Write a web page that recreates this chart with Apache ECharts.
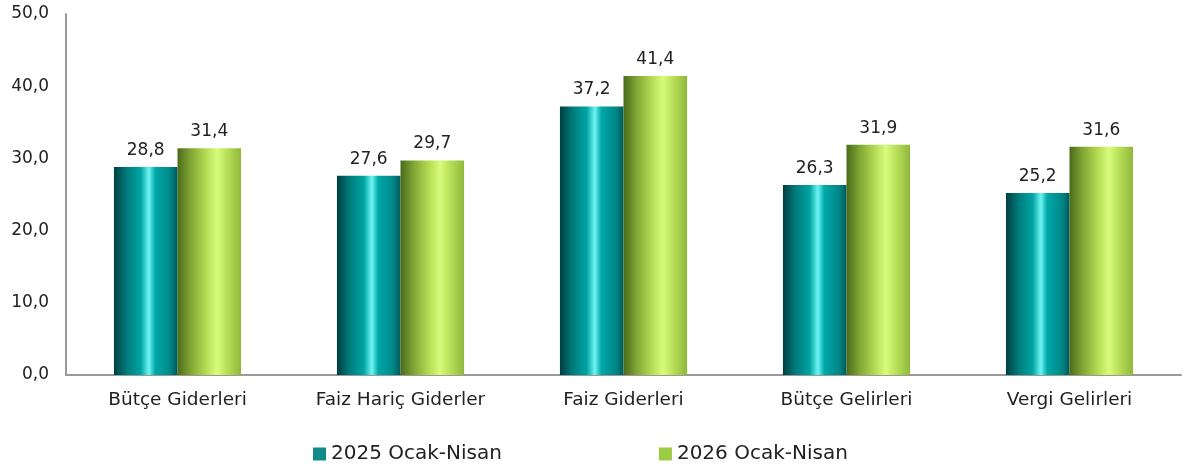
<!DOCTYPE html>
<html><head><meta charset="utf-8">
<script src="https://cdn.jsdelivr.net/npm/echarts@6/dist/echarts.min.js"></script>
<style>html,body{margin:0;padding:0;background:#fff}#c{width:1185px;height:471px}</style>
</head><body><div id="c"></div>
<script>
var categories = ['Bütçe Giderleri','Faiz Hariç Giderler','Faiz Giderleri','Bütçe Gelirleri','Vergi Gelirleri'];
var seriesNames = ['2025 Ocak-Nisan','2026 Ocak-Nisan'];
var values2025 = [28.8, 27.6, 37.2, 26.3, 25.2];
var values2026 = [31.4, 29.7, 41.4, 31.9, 31.6];

var FONT = '"DejaVu Sans", "Liberation Sans", sans-serif';
function grad(stops){
  return new echarts.graphic.LinearGradient(0,0,1,0, stops.map(function(s){return {offset:s[0], color:s[1]};}));
}
var tealGrad = grad([[0,'#003f40'],[0.2,'#007b7c'],[0.42,'#00a3a3'],[0.55,'#6ff4f4'],[0.65,'#00a8a8'],[0.88,'#008788'],[1,'#005a5b']]);
var greenGrad = grad([[0,'#4a6b1c'],[0.2,'#7fa433'],[0.45,'#b6dc55'],[0.62,'#d8fb7c'],[0.8,'#b4dc55'],[1,'#8fb83c']]);
function fmt(v){ return v.toFixed(1).replace('.', ','); }

var chart = echarts.init(document.getElementById('c'));
chart.setOption({
  animation:false,
  grid:{left:66, right:4, top:14, bottom:96, containLabel:false},
  legend:{
    bottom:2, left:308, itemGap:157, itemWidth:13, itemHeight:13, icon:'rect',
    textStyle:{fontFamily:FONT, fontSize:20, color:'#222'},
    data:[{name:seriesNames[0], itemStyle:{color:'#12898a'}},{name:seriesNames[1], itemStyle:{color:'#9ccc45'}}]
  },
  xAxis:{
    type:'category', data:categories,
    axisLine:{lineStyle:{color:'#999', width:2}},
    axisTick:{show:false},
    axisLabel:{fontFamily:FONT, fontSize:18.5, color:'#222', margin:16}
  },
  yAxis:{
    type:'value', min:0, max:50, interval:10,
    axisLine:{show:true, lineStyle:{color:'#999', width:2}},
    axisTick:{show:false},
    splitLine:{show:false},
    axisLabel:{fontFamily:FONT, fontSize:17, color:'#222', margin:17, formatter:function(v){return fmt(v);}}
  },
  series:[
    {name:seriesNames[0], type:'bar', data:values2025, barGap:'0%', barCategoryGap:'43%',
     itemStyle:{color:tealGrad},
     label:{show:true, position:'top', distance:8, fontFamily:FONT, fontSize:17, color:'#222', formatter:function(p){return fmt(p.value);}}},
    {name:seriesNames[1], type:'bar', data:values2026,
     itemStyle:{color:greenGrad},
     label:{show:true, position:'top', distance:8, fontFamily:FONT, fontSize:17, color:'#222', formatter:function(p){return fmt(p.value);}}}
  ]
});
</script></body></html>
